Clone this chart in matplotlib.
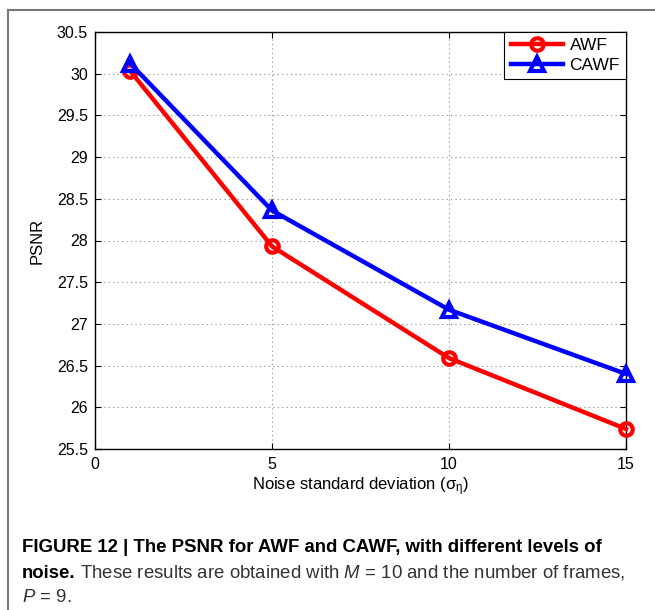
import matplotlib
matplotlib.use("Agg")
import matplotlib.pyplot as plt
from matplotlib.patches import Rectangle

plt.rcParams['font.family'] = ['Liberation Sans', 'DejaVu Sans']
plt.rcParams['mathtext.fontset'] = 'custom'
plt.rcParams['mathtext.rm'] = 'Liberation Sans'
plt.rcParams['mathtext.it'] = 'Liberation Sans:italic'
plt.rcParams['mathtext.bf'] = 'Liberation Sans:bold'

noise_sd = [1, 5, 10, 15]
psnr_awf = [30.03, 27.93, 26.59, 25.74]
psnr_cawf = [30.12, 28.36, 27.17, 26.40]
x_ticks = [0, 5, 10, 15]
y_ticks = [25.5, 26, 26.5, 27, 27.5, 28, 28.5, 29, 29.5, 30, 30.5]

fig = plt.figure(figsize=(6.55, 6.10), dpi=100)
ax = fig.add_axes([95/655, 1-449/610, (626-95)/655, (449-32)/610])

ax.plot(noise_sd, psnr_awf, color='#ff0000', lw=3.2, marker='o', ms=9,
        mfc='none', mec='#ff0000', mew=3, label='AWF', zorder=3, clip_on=False)
ax.plot(noise_sd, psnr_cawf, color='#0000ff', lw=3.2, marker='^', ms=10,
        mfc='none', mec='#0000ff', mew=3, label='CAWF', zorder=3, clip_on=False)

ax.set_xlim(0, 15)
ax.set_ylim(25.5, 30.5)
ax.set_xticks(x_ticks)
ax.set_yticks(y_ticks)
ax.set_yticklabels([f"{v:g}" for v in y_ticks])
ax.tick_params(direction='in', length=4, top=True, right=True, labelsize=11.5, width=0.8)
ax.tick_params(axis='x', pad=6)
ax.tick_params(axis='y', pad=5)
ax.grid(True, linestyle=(0, (1, 3)), color='#888888', lw=0.8)
for s in ax.spines.values():
    s.set_linewidth(1.0)

ax.set_xlabel(r'Noise standard deviation ($\mathregular{\sigma_\eta}$)', fontsize=12, labelpad=2)
ax.set_ylabel('PSNR', fontsize=12, labelpad=9)

leg = ax.legend(loc='upper right', fontsize=12.5, handlelength=3.0, borderaxespad=0,
                fancybox=False, framealpha=1, edgecolor='black', borderpad=0.35,
                labelspacing=0.25, handletextpad=0.4)
leg.get_frame().set_linewidth(0.8)
leg.set_zorder(5)

# outer frame
fig.patches.append(Rectangle((7.5/655, -0.1), 1.2, 1.1 - 10/610, transform=fig.transFigure,
                             fill=False, edgecolor='#777777', lw=1.5))

cap_fs = 13.4
fig.text(22/655, 1-547/610, 'FIGURE 12 | The PSNR for AWF and CAWF, with different levels of',
         fontsize=cap_fs, fontweight='bold', va='center', ha='left', color='black')
t_bold = fig.text(22/655, 1-573/610, 'noise.', fontsize=cap_fs, fontweight='bold',
                  va='center', ha='left', color='black')
fig.canvas.draw()
bb = t_bold.get_window_extent(renderer=fig.canvas.get_renderer())
x_next = (bb.x1 + 4) / fig.bbox.width
fig.text(x_next, 1-573/610,
         r'These results are obtained with $M$ = 10 and the number of frames,',
         fontsize=cap_fs, va='center', ha='left', color='#333333')
fig.text(22/655, 1-597/610, r'$P$ = 9.', fontsize=cap_fs, va='center', ha='left', color='#333333')

fig.savefig('out.png', dpi=100)
